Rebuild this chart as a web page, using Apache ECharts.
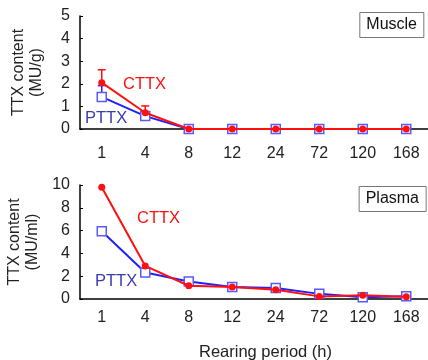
<!DOCTYPE html>
<html><head><meta charset="utf-8">
<script src="https://cdn.jsdelivr.net/npm/echarts@6/dist/echarts.min.js"></script>
<style>html,body{margin:0;padding:0;background:#fff}#c{width:428px;height:360px}</style>
</head><body><div id="c"></div>
<script>
const categories = ['1','4','8','12','24','72','120','168'];
const muscleCTTX = [2.05, 0.72, 0, 0, 0, 0, 0, 0];
const musclePTTX = [1.42, 0.57, 0, 0, 0, 0, 0, 0];
const muscleCTTXErr = [0.57, 0.3, 0, 0, 0, 0, 0, 0];
const musclePTTXErr = [0.5, 0, 0, 0, 0, 0, 0, 0];
const plasmaCTTX = [9.8, 2.9, 1.16, 1.05, 0.82, 0.23, 0.32, 0.2];
const plasmaPTTX = [5.95, 2.33, 1.54, 1.05, 0.96, 0.45, 0.15, 0.25];
const muscleTicks = [0, 5, 1];
const plasmaTicks = [0, 10, 2];

const red = '#ff1010', blue = '#2020ff';
const font = 'Liberation Sans, Arial, sans-serif';
const chart = echarts.init(document.getElementById('c'));

function errSeries(vals, errs, color, xi, yi, z) {
  return {
    type: 'custom', xAxisIndex: xi, yAxisIndex: yi, z: z, silent: true,
    data: vals.map((v, i) => [i, v, v + errs[i]]).filter(d => d[2] > d[1]),
    renderItem: function (params, api) {
      const p0 = api.coord([api.value(0), api.value(1)]);
      const p1 = api.coord([api.value(0), api.value(2)]);
      const st = {stroke: color, lineWidth: 1.5};
      return {type: 'group', children: [
        {type: 'line', shape: {x1: p0[0], y1: p0[1], x2: p1[0], y2: p1[1]}, style: st},
        {type: 'line', shape: {x1: p1[0] - 4, y1: p1[1], x2: p1[0] + 4, y2: p1[1]}, style: st}
      ]};
    }
  };
}

function xAxis(gi, margin) {
  return {
    type: 'category', data: categories, gridIndex: gi, boundaryGap: true,
    axisLine: {lineStyle: {color: '#000', width: 1.5}},
    axisTick: {inside: true, length: 2, lineStyle: {color: '#000'}},
    axisLabel: {color: '#222', fontSize: 16, fontFamily: font, margin: margin},
    splitLine: {show: false}
  };
}
function yAxis(gi, t, name) {
  return {
    type: 'value', gridIndex: gi, min: t[0], max: t[1], interval: t[2],
    name: name, nameLocation: 'middle', nameRotate: 90, nameGap: 34,
    nameTextStyle: {color: '#222', fontSize: 16, fontFamily: font, lineHeight: 18},
    axisLine: {show: true, lineStyle: {color: '#000', width: 1.5}},
    axisTick: {show: true, inside: true, length: 3, lineStyle: {color: '#000'}},
    axisLabel: {color: '#222', fontSize: 16, fontFamily: font, margin: 10},
    splitLine: {show: false}
  };
}
function lineSeries(name, data, xi, yi, isC) {
  return {
    type: 'line', name: name, data: data, xAxisIndex: xi, yAxisIndex: yi,
    z: isC ? 5 : 3,
    symbol: isC ? 'circle' : 'rect', symbolSize: isC ? 7 : 9,
    lineStyle: {color: isC ? red : blue, width: 2},
    itemStyle: isC ? {color: red} : {color: '#fff', borderColor: '#5a5aff', borderWidth: 1.5},
    animation: false
  };
}

chart.setOption({
  animation: false,
  grid: [
    {left: 80, right: 0, top: 16, height: 113, containLabel: false, outerBoundsMode: 'none'},
    {left: 80, right: 0, top: 185, height: 114, containLabel: false, outerBoundsMode: 'none'}
  ],
  xAxis: [xAxis(0, 17), xAxis(1, 11)],
  yAxis: [yAxis(0, muscleTicks, 'TTX content\n(MU/g)'), yAxis(1, plasmaTicks, 'TTX content\n(MU/ml)')],
  title: [
    {text: 'Muscle', right: 4, top: 12, borderColor: '#777', borderWidth: 1, padding: [5, 7, 5, 7],
     textStyle: {fontSize: 16, lineHeight: 16, fontWeight: 'normal', color: '#111', fontFamily: font}},
    {text: 'Plasma', right: 2, top: 186, borderColor: '#777', borderWidth: 1, padding: [5, 7, 5, 7],
     textStyle: {fontSize: 16, lineHeight: 16, fontWeight: 'normal', color: '#111', fontFamily: font}},
    {text: 'Rearing period (h)', left: 199, top: 344, padding: 0,
     textStyle: {fontSize: 16.5, fontWeight: 'normal', color: '#222', fontFamily: font}}
  ],
  graphic: [
    {type: 'text', left: 123, top: 76, style: {text: 'CTTX', fill: red, fontSize: 16.5, fontFamily: font}},
    {type: 'text', left: 85, top: 110, style: {text: 'PTTX', fill: '#3b3bb0', fontSize: 16.5, fontFamily: font}},
    {type: 'text', left: 137, top: 210, style: {text: 'CTTX', fill: red, fontSize: 16.5, fontFamily: font}},
    {type: 'text', left: 95, top: 273, style: {text: 'PTTX', fill: '#3b3bb0', fontSize: 16.5, fontFamily: font}}
  ],
  series: [
    errSeries(musclePTTX, musclePTTXErr, blue, 0, 0, 2),
    errSeries(muscleCTTX, muscleCTTXErr, red, 0, 0, 4),
    lineSeries('PTTX', musclePTTX, 0, 0, false),
    lineSeries('CTTX', muscleCTTX, 0, 0, true),
    lineSeries('PTTX', plasmaPTTX, 1, 1, false),
    lineSeries('CTTX', plasmaCTTX, 1, 1, true)
  ]
});
</script></body></html>
